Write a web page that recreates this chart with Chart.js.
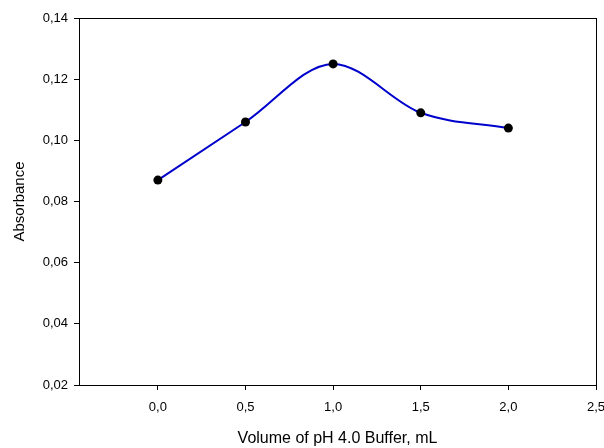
<!DOCTYPE html>
<html>
<head>
<meta charset="utf-8">
<script src="https://cdn.jsdelivr.net/npm/chart.js@4"></script>
<style>
  html, body { margin: 0; padding: 0; background: #fff; }
  #wrap { width: 604px; height: 448px; }
</style>
</head>
<body>
<div id="wrap"><canvas id="absorbance"></canvas></div>
<script>
const volumes = [0.0, 0.5, 1.0, 1.5, 2.0];
const absorbance = [0.087, 0.106, 0.125, 0.109, 0.104];

const xTitle = 'Volume of pH 4.0 Buffer, mL';
const yTitle = 'Absorbance';

const comma = (v, d) => Number(v).toFixed(d).replace('.', ',');

// frame around the plot area (top and right edges too)
const frame = {
    id: 'frame',
    afterDraw(chart) {
        const a = chart.chartArea;
        const ctx = chart.ctx;
        ctx.save();
        ctx.strokeStyle = '#000';
        ctx.lineWidth = 1;
        ctx.strokeRect(Math.round(a.left) + 0.5, Math.round(a.top) + 0.5,
            Math.round(a.right - a.left), Math.round(a.bottom - a.top));
        ctx.restore();
    }
};

Chart.defaults.font.family = '"Liberation Sans", Arial, sans-serif';
Chart.defaults.color = '#000';

const chart = new Chart(document.getElementById('absorbance'), {
    type: 'line',
    data: {
        datasets: [{
            data: volumes.map((v, i) => ({ x: v, y: absorbance[i] })),
            borderColor: '#0000cc',
            borderWidth: 2,
            cubicInterpolationMode: 'monotone',
            pointRadius: 4.5,
            pointBackgroundColor: '#000',
            pointBorderColor: '#000',
            pointBorderWidth: 0,
            fill: false
        }]
    },
    options: {
        responsive: true,
        maintainAspectRatio: false,
        animation: false,
        layout: { padding: { left: 0, right: 8, top: 18, bottom: 0 } },
        plugins: { legend: { display: false }, tooltip: { enabled: false } },
        scales: {
            x: {
                type: 'linear',
                min: -0.45,
                max: 2.5,
                grid: { drawOnChartArea: false, tickLength: 5, color: '#000' },
                border: { color: '#000' },
                ticks: {
                    stepSize: 0.5,
                    includeBounds: false,
                    padding: 10,
                    maxRotation: 0,
                    font: { size: 13 },
                    callback: v => comma(v, 1)
                },
                title: { display: true, text: xTitle, font: { size: 16 }, padding: { top: 12, bottom: 0 } },
                afterFit: s => { s.height = 63; s.paddingLeft = 0; s.paddingRight = 0; }
            },
            y: {
                min: 0.02,
                max: 0.14,
                grid: { drawOnChartArea: false, tickLength: 5, color: '#000' },
                border: { color: '#000' },
                ticks: {
                    stepSize: 0.02,
                    padding: 6,
                    font: { size: 13 },
                    callback: v => comma(v, 2)
                },
                title: { display: true, text: yTitle, font: { size: 15 }, padding: { top: 11, bottom: 0 } },
                afterFit: s => { s.width = 79; s.paddingTop = 0; s.paddingBottom = 0; }
            }
        }
    },
    plugins: [frame]
});
</script>
</body>
</html>
